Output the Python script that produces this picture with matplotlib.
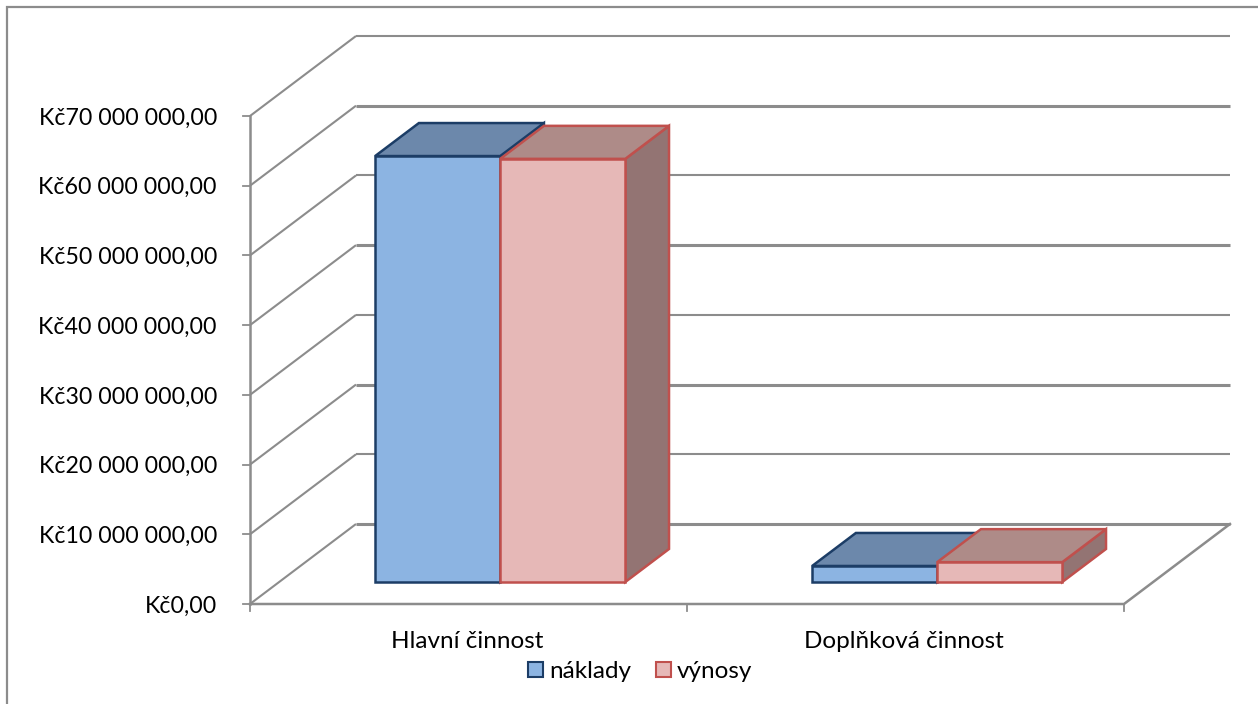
#!/usr/bin/env python3
# 3D clustered column chart drawn by hand with a simple oblique projection
import matplotlib
matplotlib.use('Agg')
import matplotlib.pyplot as plt
from matplotlib.patches import Polygon, Rectangle

# data
categories = ['Hlavní činnost', 'Doplňková činnost']
series_names = ['náklady', 'výnosy']
naklady = [61100000, 2300000]
vynosy = [60700000, 2850000]
ticks = [0, 10000000, 20000000, 30000000, 40000000, 50000000, 60000000, 70000000]
tick_labels = ['Kč0,00', 'Kč10 000 000,00', 'Kč20 000 000,00', 'Kč30 000 000,00',
               'Kč40 000 000,00', 'Kč50 000 000,00', 'Kč60 000 000,00', 'Kč70 000 000,00']

plt.rcParams['font.family'] = ['Lato', 'DejaVu Sans']
GRID = '#8c8c8c'
FS_TICK = 16.7
FS = 17.5

# projection: c = category position, v = value, d = depth (0 front, 1 back)
X0, Y0 = 250, 604
CAT_W = 437
V_SCALE = 488 / 70000000
DX, DY = 106, 80


def proj(c, v, d):
    return (X0 + c * CAT_W + d * DX, Y0 - v * V_SCALE - d * DY)


fig = plt.figure(figsize=(12.58, 7.04), dpi=100)
ax = fig.add_axes([0, 0, 1, 1])
ax.set_xlim(0, 1258)
ax.set_ylim(704, 0)
ax.axis('off')

# chart frame, only top and left edges are inside the picture
ax.plot([7, 7, 1258], [704, 7, 7], color=GRID, lw=1.6, solid_joinstyle='miter')

# gridlines on side wall and back wall
for i, (t, lab) in enumerate(zip(ticks, tick_labels)):
    p0, p1, p2 = proj(0, t, 0), proj(0, t, 1), proj(2, t, 1)
    ax.plot([p0[0], p1[0]], [p0[1], p1[1]], color=GRID, lw=1.5,
            solid_capstyle='butt', zorder=1)
    # every second back wall line comes out heavier in the original
    ax.plot([p1[0], p2[0]], [p1[1], p2[1]], color=GRID, lw=2.2 if i % 2 == 0 else 1.5,
            solid_capstyle='butt', zorder=1)
    ax.plot([p0[0] - 7, p0[0]], [p0[1], p0[1]], color=GRID, lw=1.3, zorder=1)
    ax.text(217, p0[1] + 2, lab, ha='right', va='center', fontsize=FS_TICK, color='black')

# axes and floor
f0, f1 = proj(0, 0, 0), proj(2, 0, 0)
ax.plot([f0[0], f1[0], proj(2, 0, 1)[0]], [f0[1], f1[1], proj(2, 0, 1)[1]], color=GRID,
        lw=1.8, solid_joinstyle='miter', zorder=1)
top = proj(0, ticks[-1], 0)
ax.plot([f0[0], top[0]], [f0[1], top[1]], color=GRID, lw=1.8, zorder=1)
for c in range(3):
    p = proj(c, 0, 0)
    ax.plot([p[0], p[0]], [p[1], p[1] + 7], color=GRID, lw=1.3, zorder=1)

# bars
BAR_W = 0.2862
OFFSET = 0.2197
D0, D1 = 0.275, 0.6875
styles = [
    {'front': '#8cb4e2', 'top': '#6c88ab', 'side': '#5f7797', 'edge': '#1c3d66'},
    {'front': '#e6b8b7', 'top': '#ae8b88', 'side': '#937473', 'edge': '#c0504d'},
]
z = 3
for i, vals in enumerate([naklady, vynosy]):
    st = styles[i]
    for c, v in enumerate(vals):
        x0 = c + OFFSET + i * BAR_W
        x1 = x0 + BAR_W
        side = [proj(x1, 0, D0), proj(x1, v, D0), proj(x1, v, D1), proj(x1, 0, D1)]
        topf = [proj(x0, v, D0), proj(x1, v, D0), proj(x1, v, D1), proj(x0, v, D1)]
        front = [proj(x0, 0, D0), proj(x1, 0, D0), proj(x1, v, D0), proj(x0, v, D0)]
        for pts, col in [(side, st['side']), (topf, st['top']), (front, st['front'])]:
            ax.add_patch(Polygon(pts, closed=True, fc=col, ec=st['edge'], lw=1.8,
                                 joinstyle='miter', zorder=z))
            z += 1

# category labels
for c, name in enumerate(categories):
    ax.text(proj(c + 0.5, 0, 0)[0] - 1.5, 641, name, ha='center', va='center',
            fontsize=FS, color='black')

# legend
for name, st, bx in zip(series_names, styles, [527, 655]):
    ax.add_patch(Rectangle((bx + 0.5, 662), 15, 15, fc=st['front'], ec=st['edge'], lw=1.5))
    ax.text(bx + 22, 671, name, ha='left', va='center', fontsize=FS, color='black')

fig.savefig('out.png', dpi=100)
